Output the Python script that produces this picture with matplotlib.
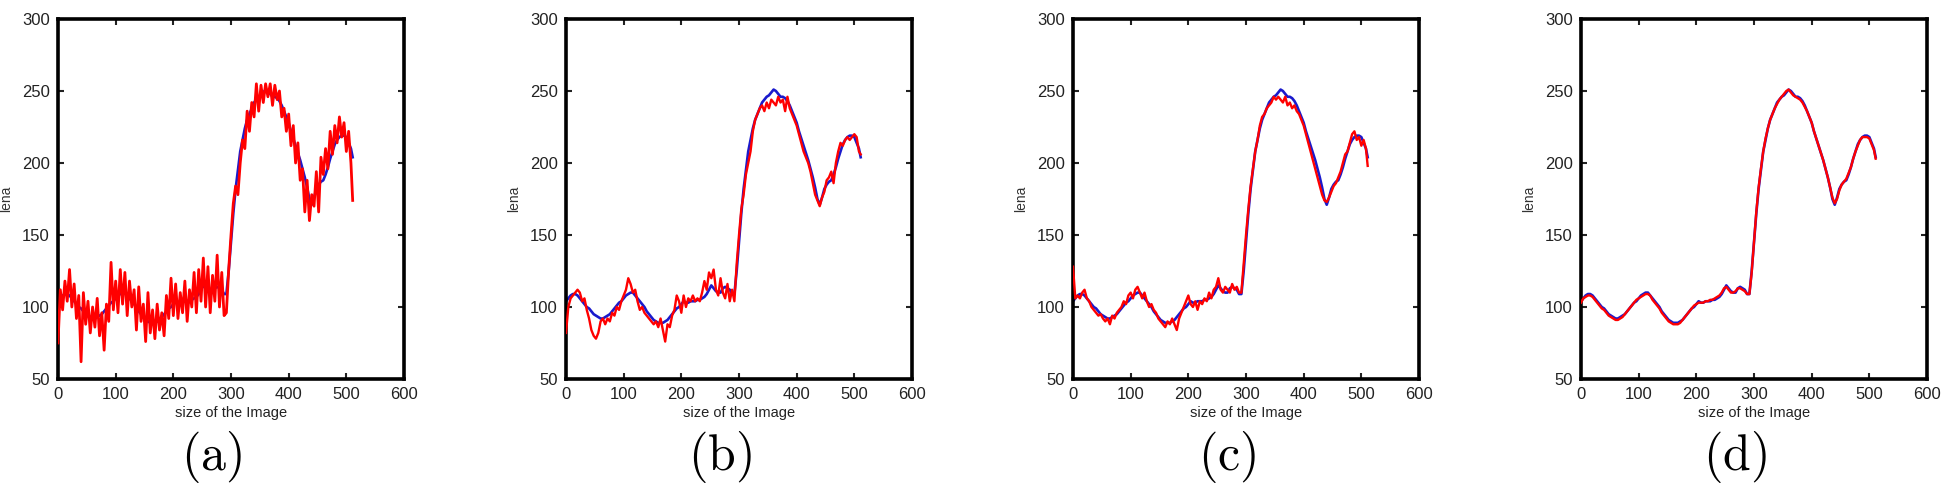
import numpy as np
import matplotlib
matplotlib.use("Agg")
import matplotlib.pyplot as plt

plt.rcParams['font.family'] = ['Liberation Sans', 'DejaVu Sans']
plt.rcParams['mathtext.fontset'] = 'cm'

# ---------------------------------------------------------------------------
# Data: one row of the lena image (pixel position vs. grey level)
# ---------------------------------------------------------------------------

PIXEL_POS = list(range(0, 512, 4)) + [511]

# original row (blue)
CLEAN = [
    104, 106, 108, 109, 109, 108, 106, 104, 102, 100, 99, 97, 95, 94, 93, 92,
    92, 93, 94, 95, 97, 99, 101, 103, 104, 106, 108, 109, 110, 110, 108, 106,
    104, 102, 100, 97, 95, 93, 91, 90, 89, 89, 89, 90, 91, 93, 95, 97,
    99, 100, 102, 104, 103, 103, 104, 104, 104, 105, 105, 106, 107, 109, 112, 115,
    113, 111, 110, 110, 113, 114, 113, 112, 109, 109, 125, 145, 165, 182, 195, 208,
    216, 224, 230, 234, 238, 242, 244, 246, 247, 249, 251, 250, 248, 246, 246, 245,
    243, 240, 236, 232, 228, 222, 217, 212, 207, 202, 196, 190, 183, 175, 171, 176,
    182, 185, 187, 188, 192, 197, 203, 208, 213, 216, 218, 219, 219, 218, 214, 210,
    204,
]

# (a) noisy row (red)
NOISY = [
    75, 112, 98, 118, 104, 126, 100, 116, 92, 108, 62, 110, 88, 104, 82, 100,
    86, 106, 80, 96, 70, 102, 90, 131, 98, 118, 96, 126, 102, 124, 94, 118,
    100, 112, 84, 114, 90, 102, 76, 110, 82, 98, 78, 102, 84, 96, 80, 108,
    92, 120, 94, 116, 92, 110, 96, 118, 90, 112, 100, 124, 96, 126, 104, 134,
    100, 128, 96, 122, 104, 136, 100, 124, 94, 96, 126, 150, 172, 184, 178, 200,
    216, 210, 236, 222, 242, 232, 255, 236, 254, 242, 255, 246, 255, 240, 254, 244,
    250, 232, 238, 222, 234, 212, 226, 200, 214, 188, 196, 166, 188, 160, 178, 170,
    194, 166, 204, 192, 210, 196, 222, 206, 226, 214, 232, 218, 228, 208, 222, 200,
    174,
]

# (b) denoised row, method 1 (red)
DENOISED_B = [
    82, 100, 106, 108, 110, 112, 110, 104, 106, 98, 92, 84, 80, 78, 82, 90,
    92, 88, 92, 90, 96, 94, 100, 98, 104, 108, 112, 120, 116, 110, 112, 104,
    98, 100, 96, 94, 92, 90, 88, 90, 86, 92, 84, 76, 88, 86, 94, 98,
    108, 104, 96, 108, 100, 106, 104, 108, 104, 106, 104, 110, 118, 112, 124, 120,
    126, 112, 108, 120, 110, 106, 116, 104, 112, 104, 130, 150, 168, 178, 192, 200,
    208, 222, 230, 234, 238, 240, 236, 242, 238, 244, 242, 240, 246, 242, 244, 236,
    246, 238, 234, 230, 226, 220, 214, 208, 204, 200, 194, 186, 178, 174, 170, 176,
    180, 188, 190, 194, 186, 200, 208, 214, 212, 216, 218, 216, 218, 220, 218, 208,
    206,
]

# (c) denoised row, method 2 (red)
DENOISED_C = [
    128, 106, 108, 106, 110, 112, 106, 104, 100, 98, 96, 94, 95, 92, 90, 92,
    88, 94, 92, 96, 98, 100, 104, 102, 108, 110, 106, 112, 114, 110, 106, 110,
    104, 100, 102, 98, 96, 92, 90, 88, 86, 90, 88, 92, 88, 84, 92, 96,
    100, 104, 108, 102, 100, 104, 98, 104, 102, 106, 104, 110, 106, 112, 114, 120,
    112, 110, 114, 112, 110, 116, 112, 114, 110, 110, 130, 150, 168, 184, 196, 208,
    216, 226, 232, 234, 238, 240, 242, 246, 244, 246, 244, 242, 246, 240, 242, 238,
    240, 236, 234, 230, 226, 220, 214, 208, 202, 196, 190, 184, 178, 174, 173, 176,
    180, 184, 186, 190, 194, 200, 206, 208, 214, 220, 222, 216, 218, 212, 216, 210,
    198,
]

# (d) denoised row, proposed method (red)
DENOISED_D = [
    103, 106, 107, 108, 108, 107, 105, 103, 101, 99, 98, 96, 94, 93, 92, 91,
    91, 92, 93, 95, 97, 99, 101, 103, 105, 106, 107, 108, 109, 109, 108, 105,
    103, 101, 99, 96, 94, 92, 90, 89, 88, 88, 88, 89, 91, 93, 95, 97,
    99, 101, 102, 103, 103, 103, 104, 104, 105, 105, 106, 107, 108, 110, 113, 114,
    112, 110, 110, 111, 113, 113, 112, 111, 109, 109, 124, 145, 166, 183, 196, 208,
    217, 224, 230, 234, 238, 241, 244, 246, 248, 250, 251, 249, 247, 246, 245, 244,
    242, 239, 236, 232, 228, 222, 217, 212, 207, 202, 196, 190, 183, 176, 172, 175,
    181, 185, 187, 189, 193, 197, 203, 208, 212, 216, 218, 218, 218, 217, 213, 209,
    203,
]

PANEL_LABELS = ['(a)', '(b)', '(c)', '(d)']
RED_SERIES = [NOISY, DENOISED_B, DENOISED_C, DENOISED_D]

X_TICKS = [0, 100, 200, 300, 400, 500, 600]
Y_TICKS = [50, 100, 150, 200, 250, 300]

# ---------------------------------------------------------------------------
# Layout (pixels measured from the reference)
# ---------------------------------------------------------------------------

W, H = 1943, 486
AX_LEFTS = [58, 566, 1073, 1581]
AX_W = 346
AX_TOP, AX_BOTTOM = 19, 379

fig = plt.figure(figsize=(W / 100, H / 100), dpi=100)
fig.patch.set_facecolor('white')

for i, left in enumerate(AX_LEFTS):
    ax = fig.add_axes([left / W, 1 - AX_BOTTOM / H, AX_W / W, (AX_BOTTOM - AX_TOP) / H])
    ax.plot(PIXEL_POS, CLEAN, color='#1a1acc', linewidth=1.9, zorder=2)
    lw = 2.0 if i == 0 else 1.7
    ax.plot(PIXEL_POS, RED_SERIES[i], color='#ff0000', linewidth=lw, zorder=3)

    ax.set_xlim(0, 600)
    ax.set_ylim(50, 300)
    ax.set_xticks(X_TICKS)
    ax.set_yticks(Y_TICKS)
    ax.tick_params(direction='in', length=4, width=1.5, top=True, right=True,
                   labelsize=12, pad=6, colors='#222222')
    for sp in ax.spines.values():
        sp.set_linewidth(2.6)
        sp.set_color('black')

    ax.set_xlabel('size of the Image', fontsize=10.5, labelpad=3, color='#222222')
    ax.set_ylabel('lena', fontsize=10, labelpad=6, color='#333333')

    cx = (left + AX_W / 2 - 19) / W
    fig.text(cx, 1 - 457 / H, r'$\mathrm{' + PANEL_LABELS[i] + '}$',
             fontsize=36, ha='center', va='center')

fig.savefig('out.png', dpi=100, facecolor='white')
